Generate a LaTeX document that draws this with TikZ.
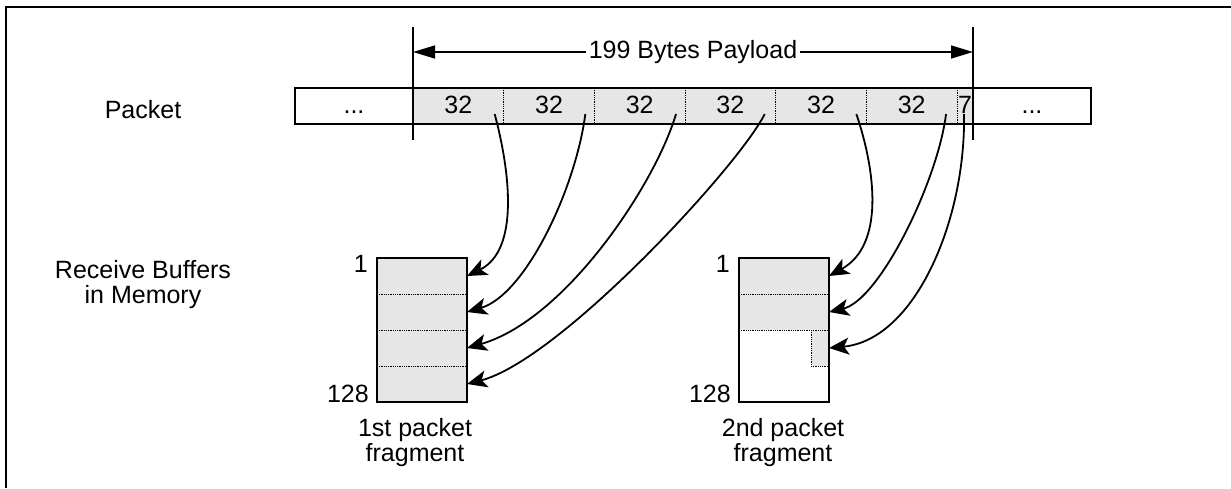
\documentclass[tikz,border=0pt]{standalone}
\usepackage{fontspec}
\setmainfont{Liberation Sans}
\usetikzlibrary{calc,arrows.meta,positioning}
\definecolor{cellgray}{HTML}{E6E6E6}
\newcommand{\lblfont}{\fontsize{25}{25}\selectfont}
\tikzset{
  pktbox/.style={minimum height=36pt,minimum width=118pt,inner sep=0pt,outer sep=0pt,text height=17pt,text depth=2pt,font=\lblfont},
  cell/.style={pktbox,minimum width=90.67pt,fill=cellgray},
  row/.style={minimum width=90pt,minimum height=36pt,inner sep=0pt,outer sep=0pt},
  sep/.style={densely dotted,line width=0.8pt},
  outline/.style={line width=2pt},
  fwd/.style={-{Stealth[length=20pt,width=17pt,inset=5pt]},line width=1.8pt},
  span/.style={{Triangle[length=22pt,width=13pt]}-{Triangle[length=22pt,width=13pt]},line width=1.5pt},
  txt/.style={font=\lblfont,inner sep=0pt,align=center}
}
\begin{document}
\begin{tikzpicture}[x=1pt,y=-1pt]
\useasboundingbox (0,0) rectangle (1231,488);
\draw[line width=1.5pt] (6,488) -- (6,7) -- (1231,7);
% packet
\node[pktbox] (pl) at (354,106) {...};
\foreach \i in {1,...,6}{\node[cell] (c\i) at ({413+(\i-0.5)*90.67},106) {32};}
\node[cell,minimum width=16pt] (c7) at (965,106) {7};
\node[pktbox] (pr) at (1032,106) {...};
\draw[outline] (pl.north west) rectangle (pr.south east);
\foreach \i in {1,...,6}{\draw[sep] (c\i.north east) -- (c\i.south east);}
\draw[outline] (c1.west |- 0,27) -- (c1.west |- 0,140);
\draw[outline] (c7.east |- 0,27) -- (c7.east |- 0,140);
\draw[span] (c1.west |- 0,52) -- (c7.east |- 0,52)
  node[midway,fill=white,txt,inner xsep=3pt] (pay) {199 Bytes Payload};
% receive buffers
\foreach \i in {1,...,4}{\node[row,fill=cellgray] (a\i) at (422,{258+(\i-0.5)*36}) {};}
\foreach \i in {1,2}{\node[row,fill=cellgray] (b\i) at (784,{258+(\i-0.5)*36}) {};}
\foreach \i in {3,4}{\node[row] (b\i) at (784,{258+(\i-0.5)*36}) {};}
\fill[cellgray] ($(b3.north east)+(-18,0)$) coordinate (tail) rectangle (b3.south east);
\draw[sep] (tail) -- (tail |- b3.south) -- (b3.south east);
\foreach \i in {1,2,3}{\draw[sep] (a\i.south west) -- (a\i.south east);}
\foreach \i in {1,2}{\draw[sep] (b\i.south west) -- (b\i.south east);}
\draw[outline] (a1.north west) rectangle (a4.south east);
\draw[outline] (b1.north west) rectangle (b4.south east);
\node[txt,anchor=base east] (atop) at ($(a1.north west)+(-9,14)$) {1};
\node[txt,anchor=base east] (abot) at ($(a4.south west)+(-8,0)$) {128};
\node[txt,anchor=base east] (btop) at ($(b1.north west)+(-9,14)$) {1};
\node[txt,anchor=base east] (bbot) at ($(b4.south west)+(-8,0)$) {128};
\node[txt,anchor=north] (fa) at ($(a4.south)+(-7,16)$) {1st packet\\fragment};
\node[txt,anchor=north] (fb) at ($(b4.south)+(-1,16)$) {2nd packet\\fragment};
% side labels
\node[txt,anchor=base] (lp) at (143,118) {Packet};
\node[txt,anchor=north] (lr) at (143,260) {Receive Buffers\\in Memory};
% payload to buffers
\draw[fwd] ($(c1.south east)+(-9,-10)$) .. controls +(15,56) and +(53,-26) .. (a1.east);
\draw[fwd] ($(c2.south east)+(-9,-10)$) .. controls +(-10,76) and +(58,-17) .. (a2.east);
\draw[fwd] ($(c3.south east)+(-9,-10)$) .. controls +(-21,71) and +(98,-28) .. (a3.east);
\draw[fwd] ($(c4.south east)+(-11,-10)$) .. controls +(-25,51) and +(93,-24) .. (a4.east);
\draw[fwd] ($(c5.south east)+(-10,-10)$) .. controls +(19,56) and +(56,-31) .. (b1.east);
\draw[fwd] ($(c6.south east)+(-11,-10)$) .. controls +(-8,66) and +(51,-12) .. (b2.east);
\draw[fwd] ($(c7.south)+(-1,-10)$) .. controls +(2,106) and +(86,-8) .. (b3.east);
\end{tikzpicture}
\end{document}
